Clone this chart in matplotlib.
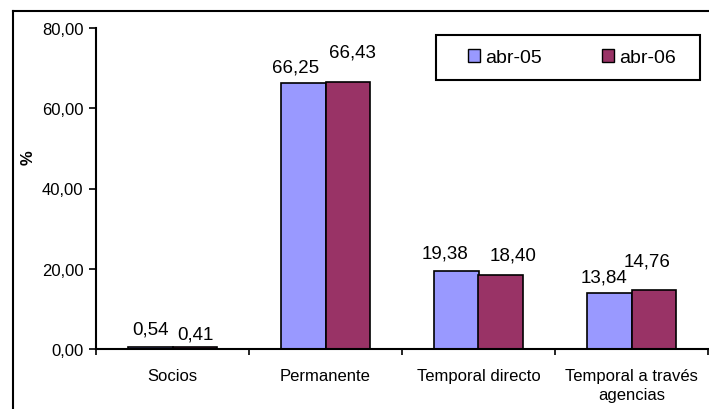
import matplotlib
matplotlib.use("Agg")
import matplotlib.pyplot as plt
import numpy as np
from matplotlib.lines import Line2D
from matplotlib.patches import Rectangle

plt.rcParams['font.family'] = ['Liberation Sans', 'DejaVu Sans']

categories = ["Socios", "Permanente", "Temporal directo", "Temporal a través\nagencias"]
series_names = ["abr-05", "abr-06"]
abr05 = [0.54, 66.25, 19.38, 13.84]
abr06 = [0.41, 66.43, 18.40, 14.76]
yticks = [0, 20, 40, 60, 80]

# small per-label nudges (pixels) as in the original chart
nudge05 = [(0, 1), (-7.5, 0), (-11, 2), (-5, 0)]
nudge06 = [(0, -3), (4, 14), (12, 4), (-7, 12)]

FS = 12
PX = 0.72  # points per pixel at 100 dpi
fig = plt.figure(figsize=(7.09, 4.10), dpi=100)
ax = fig.add_axes([96/709, 1-350/410, 612/709, 321/410])

x = np.arange(len(categories))
w = 0.294
c1 = "#9999FF"
c2 = "#993366"
b1 = ax.bar(x - w/2, abr05, w, color=c1, edgecolor="black", linewidth=1.2, label=series_names[0])
b2 = ax.bar(x + w/2, abr06, w, color=c2, edgecolor="black", linewidth=1.2, label=series_names[1])

def fmt(v):
    return f"{v:.2f}".replace(".", ",")

for bars, vals, nud in ((b1, abr05, nudge05), (b2, abr06, nudge06)):
    for b, v, (dx, dy) in zip(bars, vals, nud):
        ax.annotate(fmt(v), (b.get_x() + b.get_width()/2, v),
                    xytext=(dx*PX, (12 + dy)*PX),
                    textcoords="offset points", ha="center", va="baseline", fontsize=13.5)

ax.set_xlim(-0.5, len(categories) - 0.5)
ax.set_ylim(0, 80)
ax.set_yticks(yticks)
ax.set_yticklabels([fmt(t) for t in yticks], fontsize=FS)
ax.set_xticks(np.arange(len(categories)+1) - 0.5, minor=False)
ax.set_xticklabels([])
ax.set_xticks(x, minor=True)
ax.set_xticklabels(categories, minor=True, fontsize=FS, linespacing=1.3)
ax.tick_params(axis="x", which="minor", length=0, pad=14)
ax.tick_params(axis="x", which="major", length=4, direction="out", width=1.2)
ax.tick_params(axis="y", length=5, direction="out", width=1.2, pad=4)
for s in ("top", "right"):
    ax.spines[s].set_visible(False)
ax.spines["left"].set_linewidth(1.5)
ax.spines["bottom"].set_linewidth(1.5)
ax.set_ylabel("%", fontsize=FS, fontweight="bold")
ax.yaxis.set_label_coords((36-96)/612, (350-158)/321)

leg = fig.legend(handles=[b1, b2], labels=series_names, loc="center left",
                 bbox_to_anchor=(468/709, 1-58.5/410),
                 ncol=2, frameon=False, fontsize=14,
                 handlelength=0.62, handleheight=0.62, handletextpad=0.26, columnspacing=3.1,
                 borderpad=0, borderaxespad=0)
for h in leg.legend_handles:
    h.set_linewidth(1.0)
fig.add_artist(Rectangle((436/709, 1-81/410), (700-436)/709, 45/410, transform=fig.transFigure,
                         facecolor="white", edgecolor="black", lw=1.5, zorder=1))
leg.set_zorder(5)

# outer chart frame (left and top edges visible)
fig.add_artist(Line2D([13/709, 13/709], [0, 1-12/410], color="black", lw=1.5, transform=fig.transFigure))
fig.add_artist(Line2D([13/709, 1], [1-12/410, 1-12/410], color="black", lw=1.5, transform=fig.transFigure))

fig.savefig("out.png", dpi=100)
